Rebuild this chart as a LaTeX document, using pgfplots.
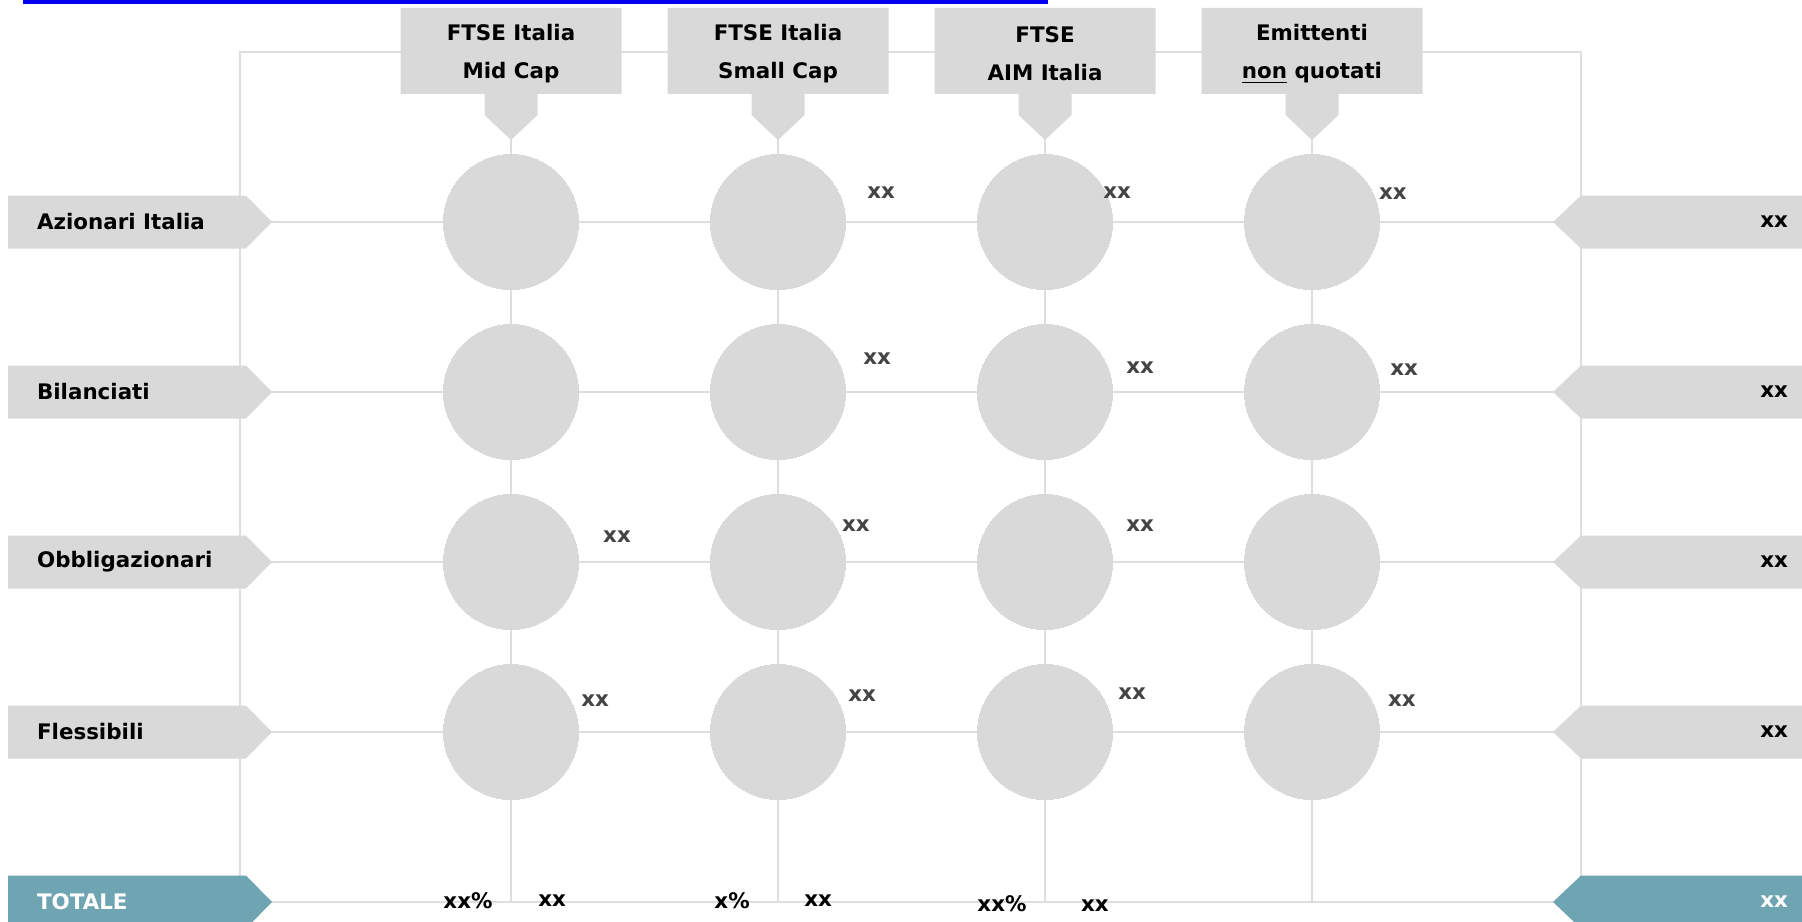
\documentclass[border=0pt]{standalone}
\usepackage{pgfplots}
\pgfplotsset{compat=1.18}
\usepackage{pgfplotstable}
\usepackage{fontspec}
\setmainfont{DejaVu Sans}
\definecolor{circ}{HTML}{D9D9D9}
\definecolor{boxg}{HTML}{D9D9D9}
\definecolor{gridc}{HTML}{DEDEDE}
\definecolor{totc}{HTML}{6FA5B2}
\definecolor{lbl}{HTML}{444444}
\definecolor{linkc}{HTML}{0000EE}

% bubbles: column (1..4), row (1..4)
\pgfplotstableread{
col row
1 1
2 1
3 1
4 1
1 2
2 2
3 2
4 2
1 3
2 3
3 3
4 3
1 4
2 4
3 4
4 4
}\bubbles

% value labels next to bubbles
\pgfplotstableread{
x y label
2.386 0.829 xx
3.270 0.829 xx
4.303 0.835 xx
2.371 1.806 xx
3.356 1.859 xx
4.345 1.871 xx
1.397 2.853 xx
2.292 2.788 xx
3.356 2.788 xx
1.315 3.818 xx
2.315 3.788 xx
3.326 3.776 xx
4.337 3.818 xx
}\cellvalues

% totals row
\pgfplotstableread{
x y label
0.839 4.99 xx\%
1.154 4.99 xx
1.828 4.99 x\%
2.150 4.99 xx
2.839 5.01 xx\%
3.187 5.02 xx
}\totals

\begin{document}
\begin{tikzpicture}[font=\fontsize{10.7}{19}\selectfont\bfseries]
\begin{axis}[
  scale only axis, width=901pt, height=461pt,
  xmin=-0.91386, xmax=5.83521, ymin=-0.30588, ymax=5.11765,
  y dir=reverse, hide axis, clip=false,
]
% link underline at top
\draw[linkc, line width=2pt] (axis cs:0,0) ++(-110.5pt,25pt) -- ++(512.5pt,0pt);
% grid
\pgfplotsinvokeforeach{1,2,3,4}{
  \draw[gridc, line width=1pt] (axis cs:#1,0) -- (axis cs:#1,5);
  \draw[gridc, line width=1pt] (axis cs:-0.015,#1) -- (axis cs:5.007,#1);
}
\draw[gridc, line width=1pt] (axis cs:-0.015,0) rectangle (axis cs:5.007,5);
% header callouts
\pgfplotsinvokeforeach{1,2,3,4}{
  \fill[boxg, shift={(axis cs:#1,0)}] (-55.25pt,22pt) -- (55.25pt,22pt) -- (55.25pt,-21pt)
    -- (13.25pt,-21pt) -- (13.25pt,-31.5pt) -- (0pt,-44pt) -- (-13.25pt,-31.5pt)
    -- (-13.25pt,-21pt) -- (-55.25pt,-21pt) -- cycle;
}
\node[align=center, yshift=-1pt] at (axis cs:1,0) {FTSE Italia\\Mid Cap};
\node[align=center, yshift=-1pt] at (axis cs:2,0) {FTSE Italia\\Small Cap};
\node[align=center, yshift=-1pt] at (axis cs:3,0) {FTSE\\AIM Italia};
\node[align=center, yshift=-1pt] at (axis cs:4,0) {Emittenti\\\underline{non} quotati};
% row labels left and right
\pgfplotsinvokeforeach{1,2,3,4}{
  \fill[boxg, shift={(axis cs:0,#1)}] (-118pt,13.25pt) -- (1pt,13.25pt) -- (14pt,0pt)
    -- (1pt,-13.25pt) -- (-118pt,-13.25pt) -- cycle;
  \fill[boxg, shift={(axis cs:5,#1)}] (130pt,13.25pt) -- (1pt,13.25pt) -- (-13pt,0pt)
    -- (1pt,-13.25pt) -- (130pt,-13.25pt) -- cycle;
  \node[anchor=east] at ([xshift=108pt]axis cs:5,#1) {xx};
}
\fill[totc, shift={(axis cs:0,5)}] (-118pt,13.25pt) -- (1pt,13.25pt) -- (14pt,0pt)
    -- (1pt,-13.25pt) -- (-118pt,-13.25pt) -- cycle;
\fill[totc, shift={(axis cs:5,5)}] (130pt,13.25pt) -- (1pt,13.25pt) -- (-13pt,0pt)
    -- (1pt,-13.25pt) -- (130pt,-13.25pt) -- cycle;
\node[anchor=west] at ([xshift=-107pt]axis cs:0,1) {Azionari Italia};
\node[anchor=west] at ([xshift=-107pt]axis cs:0,2) {Bilanciati};
\node[anchor=west] at ([xshift=-107pt]axis cs:0,3) {Obbligazionari};
\node[anchor=west] at ([xshift=-107pt]axis cs:0,4) {Flessibili};
\node[anchor=west, text=white] at ([xshift=-107pt]axis cs:0,5) {TOTALE};
\node[anchor=east, text=white] at ([xshift=108pt]axis cs:5,5) {xx};
% bubbles
\addplot[color=circ, only marks, mark=*, mark size=33.75pt,
  mark options={draw=circ, fill=circ, line width=0pt}]
  table[x=col, y=row] {\bubbles};
% labels
\addplot[only marks, mark=none, nodes near coords, point meta=explicit symbolic,
  every node near coord/.append style={anchor=center, text=lbl, inner sep=0pt}]
  table[x=x, y=y, meta=label] {\cellvalues};
\addplot[only marks, mark=none, nodes near coords, point meta=explicit symbolic,
  every node near coord/.append style={anchor=center, text=black, inner sep=0pt}]
  table[x=x, y=y, meta=label] {\totals};
\coordinate (bbA) at (rel axis cs:0,0);
\coordinate (bbB) at (rel axis cs:1,1);
\end{axis}
\pgfresetboundingbox
\path[use as bounding box] (bbA) rectangle (bbB);
\end{tikzpicture}
\end{document}
